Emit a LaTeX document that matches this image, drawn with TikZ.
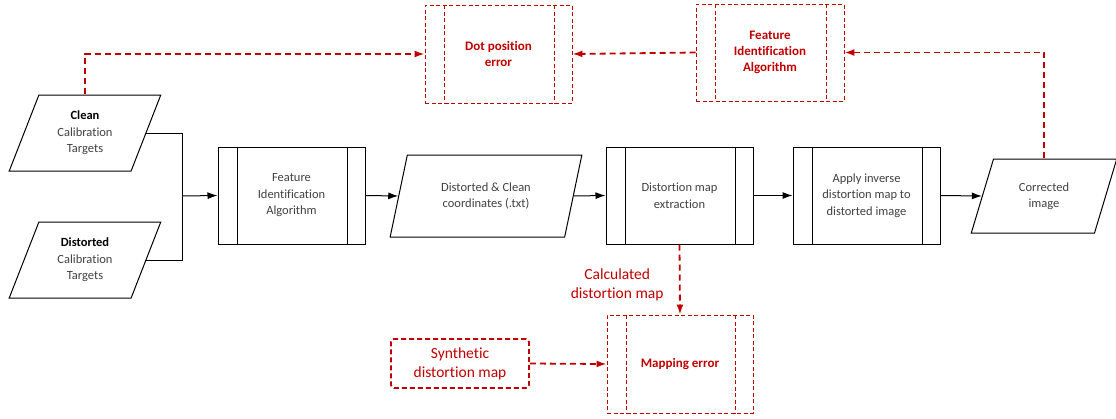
\documentclass[tikz,border=0pt]{standalone}
\usepackage{fontspec}
\setmainfont{Carlito}[Ligatures=NoCommon]
\usetikzlibrary{shapes.geometric,arrows.meta}
\definecolor{errred}{HTML}{C00000}
\definecolor{txtgray}{HTML}{404040}
\tikzset{
	flow/.style={black, line width=1pt},
	errbox/.style={errred, line width=0.9pt, dash pattern=on 4pt off 2.5pt},
	errflow/.style={errred, line width=1.8pt, dash pattern=on 6pt off 4pt},
	procbox/.style={draw, #1, minimum width=147pt, minimum height=97pt, inner sep=0pt, align=center,
		path picture={
			\draw[#1] ([xshift=19pt]path picture bounding box.north west) -- ([xshift=19pt]path picture bounding box.south west)
				([xshift=-18pt]path picture bounding box.north east) -- ([xshift=-18pt]path picture bounding box.south east);
		}},
	datain/.style={draw, flow, trapezium, trapezium stretches=true, trapezium left angle=#1, trapezium right angle=180-#1,
		inner sep=0pt, align=center, text=txtgray},
	plain/.style={font=\fontsize{12.5}{16.5}\selectfont, text=txtgray},
	errtext/.style={font=\fontsize{13}{16}\selectfont\bfseries, text=errred},
}
\begin{document}
\begin{tikzpicture}[>={Latex[length=10pt,width=7pt]}, x=1pt, y=-1pt]
	\useasboundingbox (0,0) rectangle (1116,418);

	% main chain
	\node[datain=68, plain, minimum width=152pt, minimum height=76pt] (clean) at (85,133)
		{\textcolor{black}{\textbf{Clean}}\\Calibration\\Targets};
	\node[datain=68, plain, minimum width=152pt, minimum height=76pt] (distorted) at (85,260)
		{\textcolor{black}{\textbf{Distorted}}\\Calibration\\Targets};
	\node[procbox=flow, plain] (featid) at (291.5,195.5) {Feature\\Identification\\Algorithm};
	\node[datain=70, plain, minimum width=192pt, minimum height=82pt] (coords) at (486,196)
		{Distorted \& Clean\\coordinates (.txt)};
	\node[procbox=flow, plain] (distext) at (679.5,195.5) {Distortion map\\extraction};
	\node[procbox=flow, plain] (applyinv) at (866.5,195.5) {Apply inverse\\distortion map to\\distorted image};
	\node[datain=68, plain, minimum width=146pt, minimum height=74pt] (corrected) at (1044,196)
		{Corrected\\image};

	\coordinate (merge) at (182,196);
	\draw[flow] (clean.east) -| (merge);
	\draw[flow] (distorted.east) -| (merge);
	\draw[flow,->] (merge) -- (featid.west);
	\draw[flow,->] (featid.east) -- (coords.west);
	\draw[flow,->] (coords.east) -- (distext.west);
	\draw[flow,->] (distext.east) -- (applyinv.west);
	\draw[flow,->] (applyinv.east) -- (corrected.west);

	% error checks
	\node[procbox=errbox, errtext, minimum height=98pt] (dotpos) at (498.5,54) {Dot position\\error};
	\node[procbox=errbox, errtext, minimum width=148pt] (featred) at (770,52.5) {Feature\\Identification\\Algorithm};
	\node[procbox=errbox, errtext, minimum width=146pt, minimum height=98pt] (mapping) at (680,364) {Mapping error};
	\node[draw, errflow, dash pattern=on 5pt off 3pt, rounded corners=3pt, minimum width=138pt, minimum height=49pt, align=center,
		font=\fontsize{15.5}{19}\selectfont, text=errred] (synth) at (460,363.5) {Synthetic\\distortion map};

	\draw[errflow,->] (clean.north) |- (dotpos.west);
	\draw[errflow,->] (featred.west) -- (dotpos.east);
	\draw[errflow,->] (corrected.north) |- (featred.east);
	\draw[errflow,->] (distext.south) -- node[left, xshift=-12pt, yshift=-5pt, align=center,
		font=\fontsize{15.5}{19}\selectfont, text=errred] (calclabel) {Calculated\\distortion map} (mapping.north);
	\draw[errflow,->] (synth.east) -- (mapping.west);
\end{tikzpicture}
\end{document}
